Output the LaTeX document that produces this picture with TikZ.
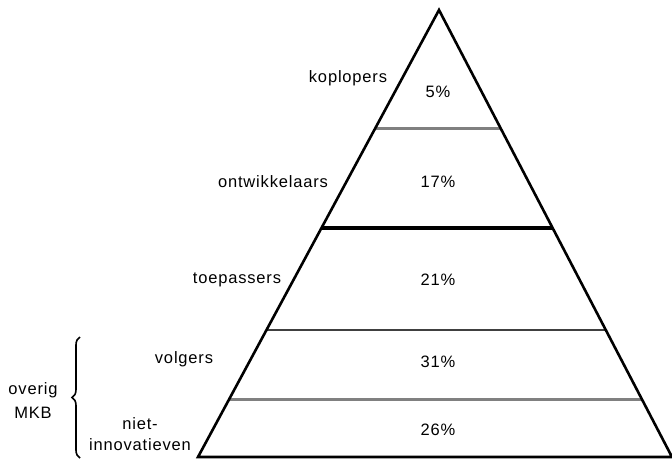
\documentclass[tikz,border=0pt]{standalone}
\usepackage{fontspec}
\setmainfont{Liberation Sans}[LetterSpace=5]
\usetikzlibrary{calc,decorations.pathreplacing}
\tikzset{
  lbl/.style={font=\fontsize{16.5}{21}\selectfont, inner sep=0pt, align=center},
  side/.style={black, line width=2.6pt},
}
\begin{document}
\begin{tikzpicture}[x=1pt,y=-1pt]
\useasboundingbox (0,0) rectangle (672,459);
\coordinate (top) at (439,10);
\coordinate (bl) at (198,457);
\coordinate (br) at (672,457);
% the layers
\draw[black!50,line width=3pt] ($(top)!.264!(bl)$) -- ($(top)!.264!(br)$);
\draw[black,line width=3.6pt] ($(top)!.488!(bl)$) -- ($(top)!.488!(br)$);
\draw[black!75,line width=2pt] ($(top)!.716!(bl)$) -- ($(top)!.716!(br)$);
\draw[black!50,line width=3pt] ($(top)!.872!(bl)$) -- ($(top)!.872!(br)$);
\draw[side,line join=miter] (bl) -- (top) -- (br) -- cycle;
% percentages
\node[lbl] (p1) at (438,92) {5\%};
\node[lbl] (p2) at (438,182) {17\%};
\node[lbl] (p3) at (438,280) {21\%};
\node[lbl] (p4) at (438,362) {31\%};
\node[lbl] (p5) at (438,430) {26\%};
% names
\node[lbl] (koplopers) at (348,78) {koplopers};
\node[lbl] (ontwikkelaars) at (273,182) {ontwikkelaars};
\node[lbl] (toepassers) at (237,280) {toepassers};
\node[lbl] (volgers) at (184,359) {volgers};
\node[lbl] (niet) at (140,434) {niet-\\innovatieven};
% overig MKB
\draw[black,line width=1.6pt,decorate,decoration={brace,amplitude=8pt}]
  (80,458) -- (80,337);
\node[lbl,font=\fontsize{16.5}{24}\selectfont] (mkb) at (33,401) {overig\\MKB};
\end{tikzpicture}
\end{document}
